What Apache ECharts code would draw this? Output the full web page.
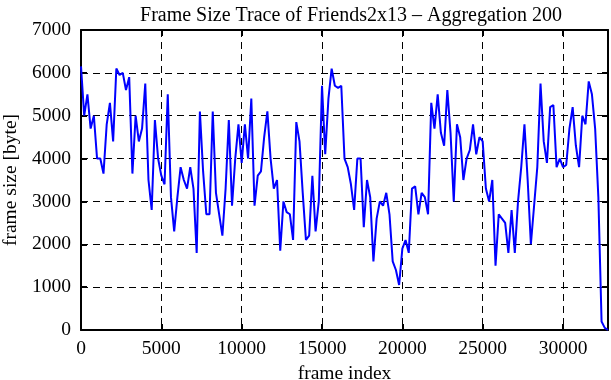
<!DOCTYPE html>
<html>
<head>
<meta charset="utf-8">
<script src="https://cdn.jsdelivr.net/npm/echarts@6/dist/echarts.min.js"></script>
<style>
html,body{margin:0;padding:0;background:#fff;}
#c{width:611px;height:380px;}
</style>
</head>
<body>
<div id="c"></div>
<script>
// Aggregation step (frames per point)
var step = 200;
// Aggregated frame sizes [byte], one value per 200 frames
var frameSizes = [
 6150,5000,5500,4700,5000,4000,4000,3650,4800,5300,
 4400,6100,5950,6000,5600,5900,3650,5000,4400,4700,
 5750,3500,2800,4900,4000,3600,3400,5500,3100,2300,
 3100,3800,3500,3300,3800,3300,1800,5100,3700,2700,
 2700,5100,3200,2700,2200,3300,4900,2900,4000,4800,
 3900,4800,4000,5400,2900,3600,3700,4500,5100,4000,
 3300,3500,1850,3000,2750,2700,2100,4850,4400,3200,
 2100,2200,3600,2300,3000,5700,4100,5400,6100,5700,
 5650,5700,4000,3800,3400,2800,4000,4000,2400,3500,
 3100,1600,2600,3000,2900,3200,2700,1600,1400,1050,
 1900,2100,1800,3300,3350,2700,3200,3100,2700,5300,
 4700,5500,4600,4300,5600,4600,3000,4800,4500,3500,
 4000,4200,4800,4100,4500,4400,3300,3000,3500,1500,
 2700,2600,2500,1800,2800,1800,3000,3800,4800,3500,
 2000,2900,3800,5750,4400,3900,5200,5250,3800,4000,
 3800,3850,4700,5200,4300,3800,5000,4800,5800,5500,
 4700,3100,200,50,0
];
var xTicks = [0,5000,10000,15000,20000,25000,30000];
var yTicks = [0,1000,2000,3000,4000,5000,6000,7000];
var xMax = 32800;

var seriesData = frameSizes.map(function(v,i){ return [i*step, v]; });

var font = '"Liberation Serif","Times New Roman",serif';
var chart = echarts.init(document.getElementById('c'));
var frameAxis = function(extra){
  return Object.assign({
    axisLine:{show:true,onZero:false,lineStyle:{color:'#000',width:2}},
    axisTick:{show:true,inside:true,length:6,lineStyle:{color:'#000',width:2}},
    axisLabel:{show:false},
    splitLine:{show:false}
  }, extra);
};
chart.setOption({
  animation:false,
  backgroundColor:'#fff',
  title:{
    text:'Frame Size Trace of Friends2x13 \u2013 Aggregation 200',
    left:346, top:1, textAlign:'center',
    textStyle:{fontFamily:font,fontSize:20,fontWeight:'normal',color:'#000'}
  },
  grid:{left:81,right:3,top:30,bottom:50,containLabel:false,outerBoundsMode:'none'},
  xAxis:[{
    type:'value', min:0, max:xMax, interval:5000, position:'bottom',
    name:'frame index', nameLocation:'middle', nameGap:29,
    nameTextStyle:{fontFamily:font,fontSize:19.5,color:'#000'},
    axisLine:{show:true,onZero:false,lineStyle:{color:'#000',width:2}},
    axisTick:{show:true,inside:true,length:6,lineStyle:{color:'#000',width:2}},
    axisLabel:{show:true,margin:9,fontFamily:font,fontSize:19.5,color:'#000',showMaxLabel:false,
      formatter:function(v){ return xTicks.indexOf(v)>=0 ? String(v) : ''; }},
    splitLine:{show:true,lineStyle:{color:'#000',width:1,type:[7,5]}}
  }, frameAxis({type:'value',min:0,max:xMax,interval:5000,position:'top'})],
  yAxis:[{
    type:'value', min:0, max:7000, interval:1000, position:'left',
    name:'frame size [byte]', nameLocation:'middle', nameGap:59,
    nameTextStyle:{fontFamily:font,fontSize:19.5,color:'#000'},
    axisLine:{show:true,onZero:false,lineStyle:{color:'#000',width:2}},
    axisTick:{show:true,inside:true,length:6,lineStyle:{color:'#000',width:2}},
    axisLabel:{show:true,margin:10,fontFamily:font,fontSize:19.5,color:'#000',
      formatter:function(v){ return yTicks.indexOf(v)>=0 ? String(v) : ''; }},
    splitLine:{show:true,lineStyle:{color:'#000',width:1,type:[7,5]}}
  }, frameAxis({type:'value',min:0,max:7000,interval:1000,position:'right'})],
  series:[{
    type:'line', xAxisIndex:0, yAxisIndex:0,
    data:seriesData, showSymbol:false, symbol:'none',
    lineStyle:{color:'#0000ff',width:2},
    z:5
  }]
});
</script>
</body>
</html>
